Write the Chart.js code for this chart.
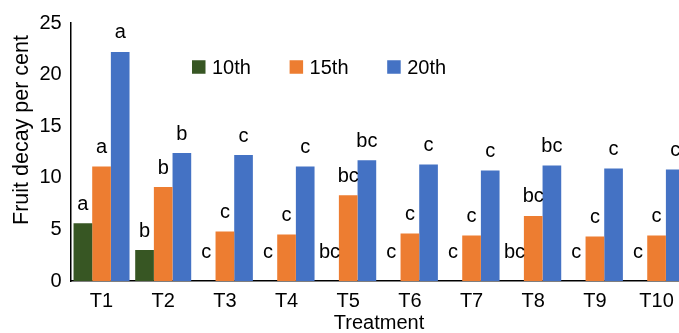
<!DOCTYPE html>
<html>
<head>
<meta charset="utf-8">
<script src="https://cdn.jsdelivr.net/npm/chart.js@4.4.1/dist/chart.umd.min.js"></script>
<style>
  html, body { margin: 0; padding: 0; background: #fff; overflow: hidden; }
  #wrap { position: relative; width: 696px; height: 333px; }
</style>
</head>
<body>
<div id="wrap"><canvas id="c"></canvas></div>
<script>
const categories = ['T1','T2','T3','T4','T5','T6','T7','T8','T9','T10'];
const seriesNames = ['10th','15th','20th'];
const day10 = [5.6, 3.0, 0, 0, 0, 0, 0, 0, 0, 0];
const day15 = [11.1, 9.1, 4.8, 4.5, 8.3, 4.6, 4.4, 6.3, 4.3, 4.4];
const day20 = [22.2, 12.4, 12.2, 11.1, 11.7, 11.3, 10.7, 11.2, 10.9, 10.8];
const letters10 = ['a','b','c','c','bc','c','c','bc','c','c'];
const letters15 = ['a','b','c','c','bc','c','c','bc','c','c'];
const letters20 = ['a','b','c','c','bc','c','c','bc','c','c'];
const yTicks = [0, 5, 10, 15, 20, 25];
const yTitle = 'Fruit decay per cent';
const xTitle = 'Treatment';

const FONT = "'Liberation Sans', Arial, sans-serif";
const colors = ['#375623', '#ED7D31', '#4472C4'];

const letterPlugin = {
  id: 'letters',
  afterDatasetsDraw(chart) {
    const ctx = chart.ctx;
    const sets = [letters10, letters15, letters20];
    const zeroY = chart.scales.y.getPixelForValue(0);
    ctx.save();
    ctx.font = '20px ' + FONT;
    ctx.fillStyle = '#000';
    ctx.textAlign = 'center';
    ctx.textBaseline = 'alphabetic';
    chart.data.datasets.forEach((ds, di) => {
      const meta = chart.getDatasetMeta(di);
      meta.data.forEach((el, i) => {
        const v = ds.data[i];
        const y = v > 0 ? el.y - 13.5 : zeroY - 23;
        ctx.fillText(sets[di][i], el.x, y);
      });
    });
    ctx.restore();
  }
};

const legendPlugin = {
  id: 'customLegend',
  afterDraw(chart) {
    const ctx = chart.ctx;
    ctx.save();
    ctx.font = '20px ' + FONT;
    ctx.textBaseline = 'middle';
    ctx.textAlign = 'left';
    const x0 = 192, step = 97.6, y = 67, sq = 13.5;
    chart.data.datasets.forEach((ds, i) => {
      const x = x0 + i * step;
      ctx.fillStyle = ds.backgroundColor;
      ctx.fillRect(x, y - sq / 2, sq, sq);
      ctx.fillStyle = '#000';
      ctx.fillText(ds.label, x + 20, y + 1);
    });
    // y-axis title (rotated)
    ctx.save();
    ctx.font = '21.5px ' + FONT;
    ctx.textAlign = 'center';
    ctx.textBaseline = 'alphabetic';
    ctx.translate(27.5, 130);
    ctx.rotate(-Math.PI / 2);
    ctx.fillText(yTitle, 0, 0);
    ctx.restore();
    ctx.restore();
  }
};

new Chart(document.getElementById('c'), {
  type: 'bar',
  data: {
    labels: categories,
    datasets: [
      { label: seriesNames[0], data: day10, backgroundColor: colors[0] },
      { label: seriesNames[1], data: day15, backgroundColor: colors[1] },
      { label: seriesNames[2], data: day20, backgroundColor: colors[2] }
    ]
  },
  options: {
    responsive: true,
    maintainAspectRatio: false,
    animation: false,
    datasets: { bar: { categoryPercentage: 0.908, barPercentage: 1.0, borderWidth: 0 } },
    layout: { padding: { top: 23, right: 8.6, left: 0, bottom: 0 } },
    plugins: { legend: { display: false }, tooltip: { enabled: false } },
    scales: {
      x: {
        grid: { display: false, drawTicks: false },
        border: { display: true, color: '#000', width: 1.5 },
        ticks: { color: '#000', font: { family: FONT, size: 20 }, padding: 8, maxRotation: 0, autoSkip: false },
        title: { display: true, text: xTitle, color: '#000', font: { family: FONT, size: 20, lineHeight: 1.0 }, padding: { top: 0, bottom: 0 } },
        afterFit(scale) { scale.height = 52; }
      },
      y: {
        min: 0, max: 25,
        afterBuildTicks(scale) { scale.ticks = yTicks.map(v => ({ value: v })); },
        grid: { display: false, drawTicks: false },
        border: { display: true, color: '#000', width: 1.5 },
        ticks: { color: '#000', font: { family: FONT, size: 20 }, padding: 9 },
        title: { display: false },
        afterFit(scale) { scale.width = 70.7; }
      }
    }
  },
  plugins: [letterPlugin, legendPlugin]
});
</script>
</body>
</html>
